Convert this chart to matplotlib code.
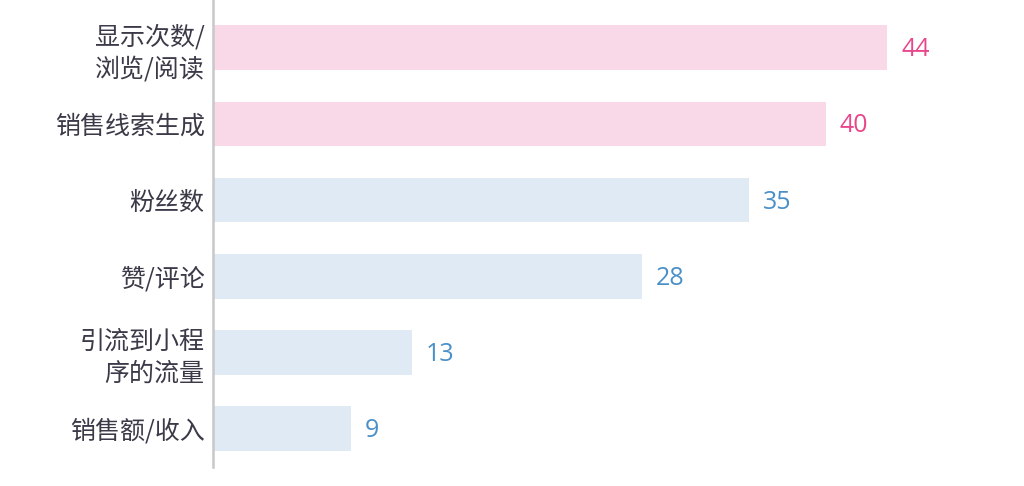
import matplotlib
matplotlib.use("Agg")
import matplotlib.pyplot as plt

plt.rcParams['font.family'] = ['Noto Sans CJK SC', 'DejaVu Sans']

categories = ["显示次数/\n浏览/阅读", "销售线索生成", "粉丝数", "赞/评论", "引流到小程\n序的流量", "销售额/收入"]
values = [44, 40, 35, 28, 13, 9]
highlight = [True, True, False, False, False, False]

pink_bar, pink_txt = "#F9D8E7", "#E8478B"
blue_bar, blue_txt = "#E0EAF4", "#4A90C8"

fig = plt.figure(figsize=(10.24, 4.86), dpi=100)
ax = fig.add_axes([213/1024, 19/486, 787/1024, 467/486])

ypos = list(range(len(categories)))
colors = [pink_bar if h else blue_bar for h in highlight]
ax.barh(ypos, values, height=0.59, color=colors, zorder=2)

for y, v, h in zip(ypos, values, highlight):
    ax.annotate(str(v), (v, y), xytext=(14, -2), textcoords="offset pixels",
                ha="left", va="center", fontsize=18, family=['Open Sans', 'DejaVu Sans'],
                color=pink_txt if h else blue_txt)

ax.set_xlim(0, 787/15.32)
ax.set_ylim(5.51, -0.63)
ax.set_yticks(ypos)
ax.set_yticklabels(categories, fontsize=18, color="#3A3A48", linespacing=1.3)
ax.tick_params(axis='y', length=0, pad=6)
ax.set_xticks([])
for s in ['top', 'right', 'bottom']:
    ax.spines[s].set_visible(False)
ax.spines['left'].set_color("#C8C8C8")
ax.spines['left'].set_linewidth(1.8)

fig.savefig("out.png", dpi=100)
